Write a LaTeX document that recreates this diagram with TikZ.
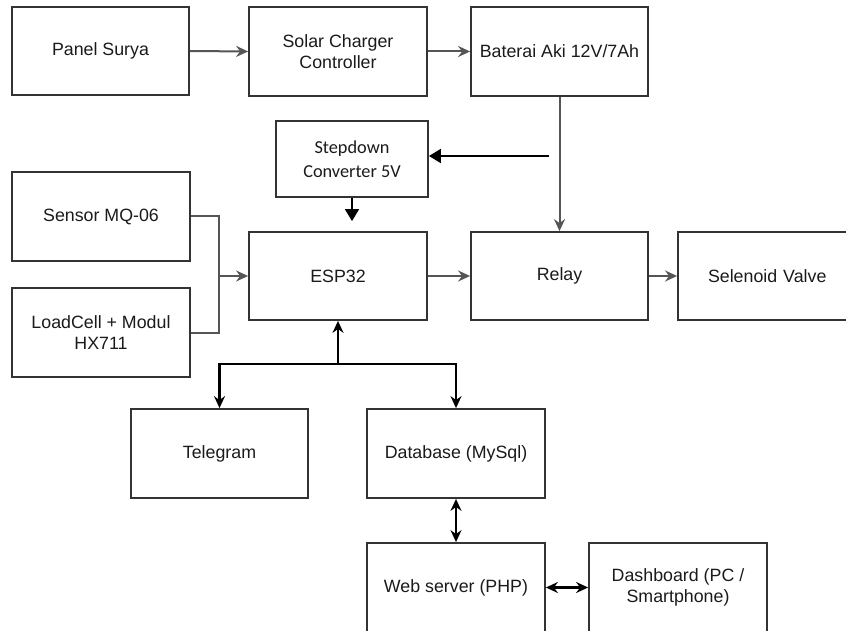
\documentclass[tikz,border=0pt]{standalone}
\usepackage{fontspec}
\setmainfont{Liberation Sans}
\newfontfamily\calfont{Carlito}
\usetikzlibrary{arrows.meta}
\definecolor{boxline}{HTML}{333333}
\definecolor{wire}{HTML}{555555}
\definecolor{txt}{HTML}{1A1A1A}
\begin{document}
\begin{tikzpicture}[x=1pt,y=-1pt,
  blk/.style={draw=boxline,line width=1.8pt,minimum width=177pt,minimum height=88pt,
    inner sep=0pt,align=center,text=txt,font=\fontsize{17.8}{21.5}\selectfont},
  gw/.style={draw=wire,line width=2pt,-{Stealth[length=12pt,width=11pt,inset=4pt]}},
  bk/.style={draw=black,line width=2.4pt,-{Stealth[length=12pt,width=11pt,inset=4pt]}},
  bkd/.style={draw=black,line width=2.4pt,{Stealth[length=12pt,width=11pt,inset=4pt]}-{Stealth[length=12pt,width=11pt,inset=4pt]}},
  tk/.style={draw=black,line width=1.6pt,-{Triangle[length=12pt,width=14pt]}}]
\useasboundingbox (0,0) rectangle (846,631);
\node[blk] (panel) at (100.5,51) {Panel Surya};
\node[blk,minimum width=178pt,minimum height=89pt] (solar) at (338,51.5) {Solar Charger\\Controller};
\node[blk,minimum height=89pt] (bat) at (559.5,51.5) {Baterai Aki 12V/7Ah};
\node[blk,minimum width=152pt,minimum height=76pt,font=\calfont\fontsize{18.3}{23.5}\selectfont] (step) at (352,159) {Stepdown\\Converter 5V};
\node[blk,minimum width=178pt,minimum height=89pt] (sensor) at (101,216.5) {Sensor MQ-06};
\node[blk,minimum width=178pt,minimum height=89pt] (load) at (101,332.5) {LoadCell + Modul\\HX711};
\node[blk,minimum width=178pt] (esp) at (338,276) {ESP32};
\node[blk] (relay) at (559.5,276) {Relay};
\node[blk,minimum width=178pt,text width=168pt,align=left] (valve) at (767,276) {\hspace*{25pt}Selenoid Valve};
\node[blk,minimum height=89pt] (tele) at (219.5,453.5) {Telegram};
\node[blk,minimum width=178pt,minimum height=89pt] (db) at (456,453.5) {Database (MySql)};
\node[blk,minimum width=178pt,minimum height=89pt] (web) at (456,587.5) {Web server (PHP)};
\node[blk,minimum width=178pt,minimum height=89pt] (dash) at (678,587.5) {Dashboard (PC /\\Smartphone)};
% power chain
\draw[gw] (panel.east) -- (solar.west);
\draw[gw] (solar.east) -- (bat.west);
\draw[gw] (bat.south) -- (relay.north);
\coordinate (tap) at (549,156);
\draw[tk] (tap) -- (tap -| step.east);
\draw[tk,shorten >=10pt] (step.south) -- (step.south |- esp.north);
% sensors
\coordinate (jn) at (219,276);
\draw[draw=wire,line width=2pt] (sensor.east) -| (jn) |- (load.east);
\draw[gw] (jn) -- (esp.west);
% esp outputs
\draw[gw] (esp.east) -- (relay.west);
\draw[gw] (relay.east) -- (valve.west);
\coordinate (jb) at (338,364);
\draw[bk] (jb) -- (esp.south);
\draw[bk] (jb) -| (tele.north);
\draw[bk] (jb) -| (db.north);
\draw[bkd] (db.south) -- (web.north);
\draw[bkd] (web.east) -- (dash.west);
\end{tikzpicture}
\end{document}
